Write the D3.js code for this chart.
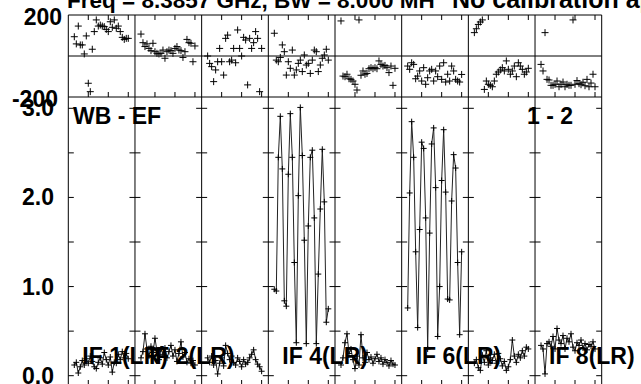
<!DOCTYPE html>
<html>
<head>
<meta charset="utf-8">
<script src="https://cdn.jsdelivr.net/npm/d3@7"></script>
<style>
  body { margin: 0; background: #fff; }
  text { font-family: "Liberation Sans", Arial, sans-serif; font-weight: bold; fill: #000; }
</style>
</head>
<body>
<div id="chart"></div>
<script>
// data
const ifNames = ['IF1', 'IF2', 'IF3', 'IF4', 'IF5', 'IF6', 'IF7', 'IF8'];
const ifLabels = ['IF 1(LR)', 'IF 2(LR)', '', 'IF 4(LR)', '', 'IF 6(LR)', '', 'IF 8(LR)'];
const channels = [3, 4, 5, 6, 7, 8, 9, 10, 11, 12, 13, 14, 15, 16, 17, 18, 19, 20, 21, 22, 23, 24, 25, 26, 27, 28, 29, 30];
const chanTicks = [10, 20, 30];
const ampTicks = [0, 0.5, 1.0, 1.5, 2.0, 2.5, 3.0];
const ampLabels = [0, 1, 2, 3];
const phaseLabels = [200, -200];

const amp1 = [0.12, 0.15, 0.03, 0.10, 0.17, 0.12, 0.19, 0.14, 0.22, 0.16, 0.10, 0.08, 0.15, 0.20, 0.13, 0.26, 0.18, 0.12, 0.21, 0.04, 0.15, 0.14, 0.24, 0.18, 0.27, 0.20, 0.25, 0.19];
const amp2 = [0.20, 0.27, 0.47, 0.30, 0.22, 0.33, 0.26, 0.42, 0.28, 0.18, 0.30, 0.24, 0.31, 0.20, 0.27, 0.34, 0.22, 0.29, 0.16, 0.25, 0.38, 0.21, 0.26, 0.15, 0.19, 0.14, 0.17, 0.12];
const amp3 = [0.20, 0.15, 0.22, 0.12, 0.17, 0.02, 0.14, 0.20, 0.11, 0.34, 0.25, 0.18, 0.22, 0.15, 0.12, 0.20, 0.16, 0.10, 0.18, 0.13, 0.15, 0.20, 0.24, 0.29, 0.18, 0.13, 0.10, 0.05];
const amp4 = [0.97, 0.95, 2.45, 2.91, 2.32, 0.84, 0.78, 2.26, 2.94, 2.45, 1.27, 0.37, 2.02, 3.01, 2.47, 1.52, 0.36, 1.68, 2.45, 2.53, 1.77, 0.36, 1.14, 1.87, 2.54, 1.95, 0.60, 0.75];
const amp5 = [0.12, 0.20, 0.37, 0.47, 0.25, 0.30, 0.18, 0.08, 0.22, 0.12, 0.46, 0.20, 0.15, 0.26, 0.18, 0.21, 0.14, 0.19, 0.24, 0.16, 0.20, 0.13, 0.18, 0.15, 0.11, 0.17, 0.13, 0.12];
const amp6 = [0.76, 2.05, 2.85, 2.45, 1.39, 0.54, 1.64, 2.62, 2.55, 1.77, 0.30, 1.60, 2.60, 2.78, 2.11, 0.44, 1.00, 2.19, 2.76, 2.06, 0.86, 0.85, 1.96, 2.48, 2.33, 1.27, 0.46, 1.39];
const amp7 = [0.14, 0.18, 0.09, 0.06, 0.23, 0.15, 0.28, 0.12, 0.20, 0.17, 0.24, 0.14, 0.25, 0.19, 0.11, 0.16, 0.06, 0.10, 0.18, 0.40, 0.22, 0.15, 0.24, 0.20, 0.28, 0.22, 0.32, 0.30];
const amp8 = [0.34, 0.30, 0.02, 0.36, 0.38, 0.33, 0.44, 0.30, 0.53, 0.40, 0.36, 0.45, 0.30, 0.42, 0.38, 0.47, 0.32, 0.28, 0.37, 0.34, 0.40, 0.31, 0.36, 0.29, 0.35, 0.33, 0.38, 0.30];

const ph1 = [94, 59, 146, 54, 54, 10, 98, -133, -174, 33, 119, 176, 146, 151, 146, 143, 130, 119, 167, 140, 176, 135, 146, 119, 91, 81, 86, 86];
const ph2 = [107, 65, 46, 59, 37, 26, 62, 21, 13, 10, 13, 29, -11, 21, 29, 26, 13, 37, 46, 29, 26, -7, 21, 81, 65, 62, -28, 49];
const ph3 = [0, -36, -52, -125, -68, -28, 37, -28, -93, 86, 102, -28, -20, 37, -33, 127, 37, 0, 91, 78, -141, 86, 37, 65, 119, 86, -174, 37];
const ph4 = [111, -20, -28, -7, 54, 21, -93, -28, -60, 29, -93, -68, -36, -20, -76, 5, -44, -36, -85, -20, 29, 21, -76, -44, -11, 5, 33, -20];
const ph5 = [171, -98, -101, -89, -111, -114, -122, -138, -166, 176, -94, -73, -89, -85, -62, -57, -62, -57, -62, -24, -41, -49, -46, -57, -81, -49, -143, -60];
const ph6 = [-49, -65, -33, -41, -111, -98, -73, -122, -57, -138, -106, -73, -65, -122, -73, -101, -49, -114, -33, -127, -89, -122, -49, -73, -114, -122, -127, -90];
const ph7 = [114, 133, 154, 166, 176, -163, -122, -138, -143, -150, -122, -89, -78, -68, -57, -73, -24, -65, -89, -73, -49, -101, -33, -49, -65, -89, -78, -60];
const ph8 = [-41, -73, 114, -114, -117, -143, -143, -138, -122, -150, -138, -127, -150, -138, -143, -143, 176, -138, -120, -135, -140, -128, -145, -114, -150, -132, -89, -150];

const ampSeries = [amp1, amp2, amp3, amp4, amp5, amp6, amp7, amp8];
const phaseSeries = [ph1, ph2, ph3, ph4, ph5, ph6, ph7, ph8];

// layout
const width = 641; const height = 384;
const plotLeft = 68.3; const plotRight = 601.7;
const phTop = 15; const phBottom = 97;
const ampTop = 97; const ampBottom = 386;

const svg = d3.select('#chart')
    .append('svg')
        .attr('width', width)
        .attr('height', height);

const colScale = d3.scaleBand()
    .domain(ifNames)
    .range([plotLeft, plotRight]);
const colW = colScale.bandwidth();
const chScale = d3.scaleLinear()
    .domain([0, 33.35])
    .range([0, colW]);
const phScale = d3.scaleLinear()
    .domain([-200, 200])
    .range([phBottom, phTop]);
const ampScale = d3.scaleLinear()
    .domain([0, 3])
    .range([375.7, 108.3]);

const plus = (x, y, s) => `M${x - s},${y}H${x + s}M${x},${y - s}V${y + s}`;

// frame and column separators
const frame = svg.append('g').attr('stroke', '#000').attr('stroke-width', 1).attr('fill', 'none');
frame.append('line').attr('x1', plotLeft).attr('x2', plotRight).attr('y1', phTop).attr('y2', phTop);
frame.append('line').attr('x1', plotLeft).attr('x2', plotRight).attr('y1', phBottom).attr('y2', phBottom);
frame.append('line').attr('x1', plotLeft).attr('x2', plotRight).attr('y1', phScale(0)).attr('y2', phScale(0));
const bounds = ifNames.map(d => colScale(d)).concat([plotRight]);
frame.selectAll('.sep')
    .data(bounds)
    .enter()
    .append('line')
        .attr('x1', d => d).attr('x2', d => d)
        .attr('y1', phTop).attr('y2', ampBottom);

// ticks
const tickG = svg.append('g').attr('stroke', '#000').attr('stroke-width', 1);
ifNames.forEach(name => {
    chanTicks.forEach(c => {
        const x = colScale(name) + chScale(c);
        tickG.append('line').attr('x1', x).attr('x2', x).attr('y1', phTop).attr('y2', phTop + 5);
        tickG.append('line').attr('x1', x).attr('x2', x).attr('y1', phBottom).attr('y2', phBottom - 5);
        tickG.append('line').attr('x1', x).attr('x2', x).attr('y1', ampBottom).attr('y2', ampBottom - 6);
    });
});
bounds.forEach((bx, i) => {
    ampTicks.forEach(v => {
        const y = ampScale(v);
        const xl = i === 0 ? bx : bx - 5.5;
        const xr = i === bounds.length - 1 ? bx : bx + 5.5;
        tickG.append('line').attr('x1', xl).attr('x2', xr).attr('y1', y).attr('y2', y);
    });
});

// phase points
ifNames.forEach((name, i) => {
    const g = svg.append('g');
    g.selectAll('path')
        .data(channels.map((c, j) => ({c: c, v: phaseSeries[i][j]})))
        .enter()
        .append('path')
            .attr('d', d => plus(colScale(name) + chScale(d.c), phScale(d.v), 3.5))
            .attr('stroke', '#000')
            .attr('stroke-width', 1)
            .attr('fill', 'none');
});

// amplitude lines and points
const line = d3.line()
    .x(d => d.x)
    .y(d => ampScale(d.v));
ifNames.forEach((name, i) => {
    const pts = channels.map((c, j) => ({x: colScale(name) + chScale(c), v: ampSeries[i][j]}));
    const g = svg.append('g');
    g.append('path')
        .datum(pts)
        .attr('d', line)
        .attr('fill', 'none')
        .attr('stroke', '#222')
        .attr('stroke-width', 1);
    g.selectAll('.pt')
        .data(pts)
        .enter()
        .append('path')
            .attr('d', d => plus(d.x, ampScale(d.v), 3))
            .attr('stroke', '#000')
            .attr('stroke-width', 1)
            .attr('fill', 'none');
});

// axis labels
const fs = 23;
svg.selectAll('.phl')
    .data(phaseLabels)
    .enter()
    .append('text')
        .attr('x', d => d > 0 ? 62 : 58)
        .attr('y', d => phScale(d) + 10)
        .attr('text-anchor', 'end')
        .attr('font-size', fs)
        .text(d => d);
svg.selectAll('.aml')
    .data(ampLabels)
    .enter()
    .append('text')
        .attr('x', 54)
        .attr('y', d => ampScale(d) + 8)
        .attr('text-anchor', 'end')
        .attr('font-size', fs)
        .text(d => d3.format('.1f')(d));

// panel labels
ifNames.forEach((name, i) => {
    if (!ifLabels[i]) return;
    svg.append('text')
        .attr('x', colScale(name) + 14)
        .attr('y', 364)
        .attr('font-size', fs)
        .text(ifLabels[i]);
});
svg.append('text').attr('x', 73).attr('y', 123.5).attr('font-size', fs).text('WB - EF');
svg.append('text').attr('x', 573).attr('y', 123.5).attr('text-anchor', 'end').attr('font-size', fs).text('1 - 2');

// title
svg.append('text').attr('x', 67).attr('y', 7.5).attr('font-size', 22.5).text('Freq = 8.3857 GHz, BW = 8.000 MH');
svg.append('text').attr('x', 452).attr('y', 7.5).attr('font-size', 25).text('No calibration applied');
</script>
</body>
</html>
